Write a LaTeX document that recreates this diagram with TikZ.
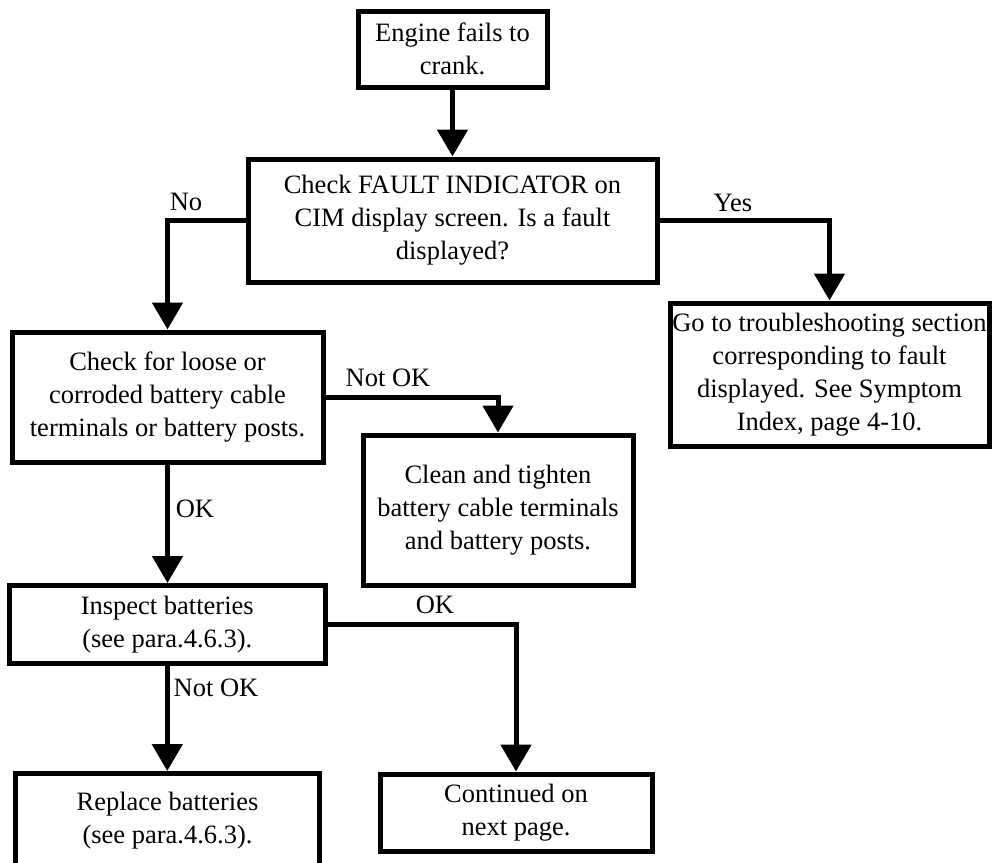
\documentclass[tikz,border=0pt]{standalone}
\usepackage{fontspec}
\setmainfont{Liberation Serif}
\usetikzlibrary{arrows.meta}
\tikzset{
  box/.style={draw, line width=2.5pt, align=center, inner sep=0pt, font=\fontsize{13.25pt}{16.5pt}\selectfont},
  conn/.style={line width=2.5pt, -{Triangle[width=15pt,length=13.5pt]}},
  lbl/.style={inner sep=0pt, font=\fontsize{13.25pt}{16.5pt}\selectfont}
}
\begin{document}
\begin{tikzpicture}[x=0.5pt,y=-0.5pt]
\clip (0,0) rectangle (992,863);
\fill[white] (0,0) rectangle (992,863);
\node[box, minimum width=94.5pt, minimum height=38pt] (eng) at (452.5,49) {Engine fails to\\crank.};
\node[box, minimum width=204.5pt, minimum height=61.5pt] (fault) at (452.5,220.5) {Check FAULT INDICATOR on\\CIM display screen. Is a fault\\displayed?};
\node[box, minimum width=159.5pt, minimum height=71.5pt] (goto) at (829.5,374.5) {Go to troubleshooting section\\corresponding to fault\\displayed. See Symptom\\Index, page 4-10.};
\node[box, minimum width=155.5pt, minimum height=65pt] (loose) at (167.5,397) {Check for loose or\\corroded battery cable\\terminals or battery posts.};
\node[box, minimum width=135pt, minimum height=75pt] (clean) at (498,510) {Clean and tighten\\battery cable terminals\\and battery posts.};
\node[box, minimum width=157.75pt, minimum height=39pt] (insp) at (167.25,624.5) {Inspect batteries\\(see para.4.6.3).};
\node[box, minimum width=152pt, minimum height=46.75pt] (repl) at (167.5,820.25) {Replace batteries\\(see para.4.6.3).};
\node[box, minimum width=136pt, minimum height=38.75pt] (cont) at (516,812.75) {Continued on\\next page.};

\draw[conn] (eng.south) -- (fault.north);
\draw[conn] (fault.west) -| (loose.north);
\draw[conn] (fault.east) -| (goto.north);
\draw[conn] (loose.east) -| (clean.north);
\draw[conn] (loose.south) -- (loose.south |- insp.north);
\draw[conn] (insp.east) -| (cont.north);
\draw[conn] (insp.south) -- (insp.south |- repl.north);

\node[lbl] (lno) at (186,202) {No};
\node[lbl] (lyes) at (733,203) {Yes};
\node[lbl] (lnotok1) at (388,378) {Not OK};
\node[lbl] (lok1) at (195,509) {OK};
\node[lbl] (lok2) at (435,605) {OK};
\node[lbl] (lnotok2) at (216,688) {Not OK};
\end{tikzpicture}
\end{document}
